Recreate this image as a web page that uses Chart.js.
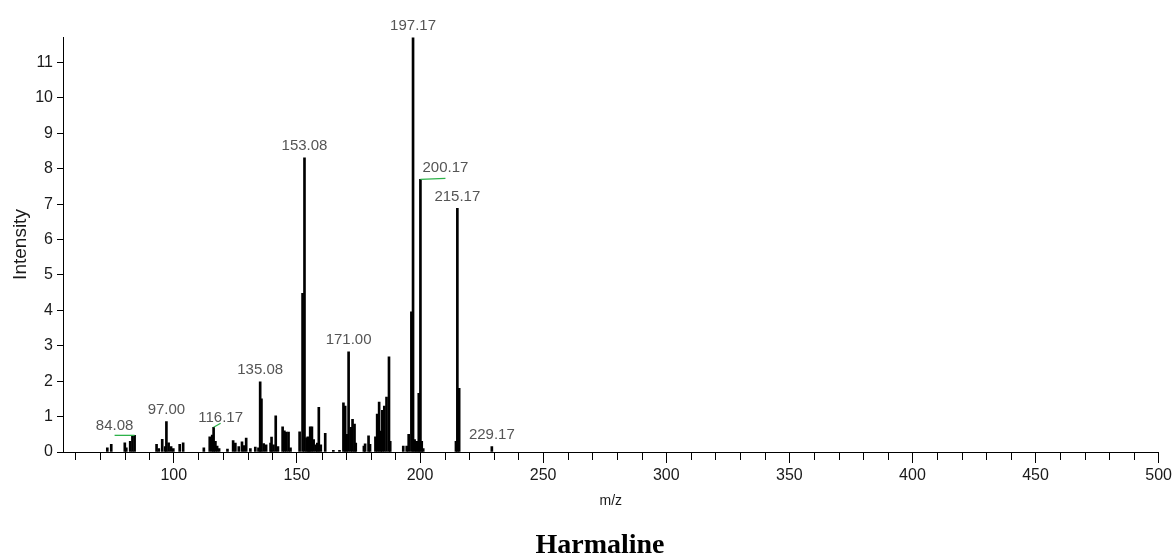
<!DOCTYPE html>
<html>
<head>
<meta charset="utf-8">
<script src="https://cdn.jsdelivr.net/npm/chart.js@4.4.1/dist/chart.umd.min.js"></script>
<style>
  html, body { margin: 0; padding: 0; background: #fff; }
  #wrap { width: 1175px; height: 554px; }
</style>
</head>
<body>
<div id="wrap"><canvas id="ms" width="1175" height="554"></canvas></div>
<script>
// peak list (m/z, intensity)
const mz = [
  73.0, 74.6, 80.1, 80.7, 82.3, 83.2, 84.08,
  93.0, 93.9, 95.3, 96.5, 97.0, 97.9, 98.9, 99.8, 102.4, 103.8,
  112.2, 114.6, 115.6, 116.17, 116.9, 117.6, 118.4, 121.8,
  124.1, 125.0, 126.4, 127.7, 128.5, 129.4, 131.1, 133.1, 134.4,
  135.08, 135.6, 136.5, 137.5, 139.3, 139.7, 140.5, 141.4, 142.3,
  144.2, 144.9, 145.7, 146.6, 147.4,
  151.1, 152.3, 153.08, 153.9, 154.4, 155.0, 155.4, 156.1, 156.8, 157.7, 158.3, 158.9, 159.7, 161.5,
  164.8, 167.3, 168.9, 169.6, 170.2, 171.0, 171.9, 172.6, 173.4, 173.9,
  177.2, 177.7, 179.1, 179.7,
  181.9, 182.6, 183.4, 184.1, 184.7, 185.5, 186.4, 187.4, 187.9,
  193.2, 194.6, 195.4, 196.5, 197.17, 197.8, 198.4, 199.0, 199.5, 200.17, 200.7, 201.3,
  214.6, 215.17, 215.9, 229.17
];
const intensity = [
  0.12, 0.22, 0.26, 0.12, 0.30, 0.46, 0.47,
  0.22, 0.10, 0.36, 0.15, 0.86, 0.26, 0.15, 0.10, 0.22, 0.26,
  0.12, 0.43, 0.48, 0.70, 0.30, 0.17, 0.10, 0.08,
  0.32, 0.25, 0.15, 0.29, 0.18, 0.39, 0.10, 0.14, 0.12,
  1.98, 1.50, 0.24, 0.20, 0.25, 0.42, 0.20, 1.02, 0.15,
  0.71, 0.60, 0.56, 0.56, 0.12,
  0.57, 4.48, 8.31, 0.40, 0.43, 0.35, 0.71, 0.71, 0.35, 0.20, 0.25, 1.26, 0.20, 0.53,
  0.05, 0.05, 1.39, 1.30, 0.50, 2.83, 0.70, 0.92, 0.79, 0.25,
  0.17, 0.23, 0.46, 0.22,
  0.43, 1.07, 1.41, 0.59, 1.18, 1.30, 1.55, 2.69, 0.30,
  0.17, 0.17, 0.50, 3.96, 11.70, 0.35, 0.30, 0.30, 1.66, 7.70, 0.30, 0.10,
  0.30, 6.88, 1.80, 0.15
];
const labelledPeaks = [84.08, 97.00, 116.17, 135.08, 153.08, 171.00, 197.17, 200.17, 215.17, 229.17];
const xTickLabels = [100, 150, 200, 250, 300, 350, 400, 450, 500];
const yTickLabels = [0, 1, 2, 3, 4, 5, 6, 7, 8, 9, 10, 11];
const compoundName = 'Harmaline';

const tickFont = { family: '"Liberation Sans Narrow", "Liberation Sans", Arial, sans-serif', size: 16 };

// a few labels sit beside their peak with a green leader line
const labelShift = {
  '84.08': { dx: -20, dy: -9, lead: 0 },
  '116.17': { dx: 7, dy: -9, lead: -4 },
  '200.17': { dx: 25, dy: -11, lead: -1 }
};

const peakLabelPlugin = {
  id: 'peakLabels',
  afterDatasetsDraw(chart) {
    const { ctx, scales: { x, y } } = chart;
    ctx.save();
    ctx.font = '15px "Liberation Sans", Arial, sans-serif';
    ctx.textAlign = 'center';
    ctx.textBaseline = 'middle';
    labelledPeaks.forEach(p => {
      const i = mz.indexOf(p);
      const px = x.getPixelForValue(mz[i]);
      const py = y.getPixelForValue(intensity[i]);
      const txt = p.toFixed(2);
      const s = labelShift[txt] || { dx: 0, dy: -12 };
      if (labelShift[txt]) {
        ctx.strokeStyle = '#2db24a';
        ctx.lineWidth = 1.3;
        ctx.beginPath();
        ctx.moveTo(px, py);
        ctx.lineTo(px + s.dx, py + s.lead);
        ctx.stroke();
      }
      ctx.fillStyle = '#555';
      ctx.fillText(txt, px + s.dx, py + s.dy);
    });
    ctx.restore();
  }
};

// short minor ticks every 10 m/z (long ones every 50 come from Chart.js) + caption
const decorPlugin = {
  id: 'decor',
  afterDraw(chart) {
    const { ctx, scales: { x } } = chart;
    ctx.save();
    ctx.strokeStyle = '#000';
    ctx.lineWidth = 1;
    ctx.beginPath();
    for (let v = 60; v <= 500; v += 10) {
      if (xTickLabels.includes(v)) continue;
      const px = Math.round(x.getPixelForValue(v)) + 0.5;
      ctx.moveTo(px, x.top);
      ctx.lineTo(px, x.top + 8);
    }
    ctx.stroke();
    ctx.fillStyle = '#000';
    ctx.font = 'bold 28px "Liberation Serif", "Times New Roman", serif';
    ctx.textAlign = 'center';
    ctx.textBaseline = 'alphabetic';
    ctx.fillText(compoundName, 600, 553);
    ctx.restore();
  }
};

new Chart(document.getElementById('ms'), {
  type: 'bar',
  data: {
    datasets: [{
      data: mz.map((m, i) => ({ x: m, y: intensity[i] })),
      backgroundColor: '#000',
      borderWidth: 0,
      barThickness: 2
    }]
  },
  options: {
    responsive: false,
    animation: false,
    layout: { padding: { top: 37, right: 15, left: 0, bottom: 0 } },
    plugins: {
      legend: { display: false },
      tooltip: { enabled: false },
      title: { display: false }
    },
    scales: {
      x: {
        type: 'linear',
        offset: false,
        min: 55,
        max: 500,
        afterBuildTicks(scale) {
          const t = [];
          for (let v = 60; v <= 500; v += 10) t.push({ value: v });
          scale.ticks = t;
        },
        afterFit(scale) { scale.height = 102; },
        ticks: {
          autoSkip: false,
          maxRotation: 0,
          padding: 3,
          color: '#1a1a1a',
          font: tickFont,
          callback: v => xTickLabels.includes(v) ? String(v) : ''
        },
        grid: {
          offset: false,
          drawOnChartArea: false,
          tickLength: 11,
          tickColor: c => (c.tick && xTickLabels.includes(c.tick.value)) ? '#000' : 'rgba(0,0,0,0)'
        },
        border: { color: '#000', width: 1 },
        title: {
          display: true,
          text: 'm/z',
          color: '#1a1a1a',
          font: { family: '"Liberation Sans Narrow", "Liberation Sans", Arial, sans-serif', size: 14 },
          padding: { top: 0, bottom: 44 }
        }
      },
      y: {
        min: 0,
        max: 11.72,
        afterBuildTicks(scale) {
          scale.ticks = yTickLabels.map(v => ({ value: v }));
        },
        afterFit(scale) { scale.width = 63; },
        ticks: {
          padding: 4,
          color: '#1a1a1a',
          font: tickFont
        },
        grid: {
          drawOnChartArea: false,
          tickLength: 6,
          tickColor: '#000'
        },
        border: { color: '#000', width: 1 },
        title: {
          display: true,
          text: 'Intensity',
          color: '#1a1a1a',
          font: { family: '"Liberation Sans Narrow", "Liberation Sans", Arial, sans-serif', size: 19 },
          padding: { top: 9, bottom: 0 }
        }
      }
    }
  },
  plugins: [peakLabelPlugin, decorPlugin]
});
</script>
</body>
</html>
